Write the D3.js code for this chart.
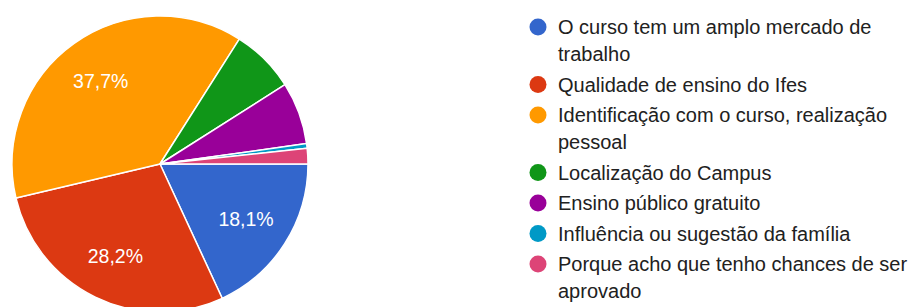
<!DOCTYPE html>
<html><head><meta charset="utf-8">
<script src="https://cdn.jsdelivr.net/npm/d3@7"></script>
<style>body{margin:0;background:#fff}svg{display:block}</style>
</head><body>
<svg id="c" width="910" height="307"></svg>
<script>
const categories = [
  "O curso tem um amplo mercado de trabalho",
  "Qualidade de ensino do Ifes",
  "Identificação com o curso, realização pessoal",
  "Localização do Campus",
  "Ensino público gratuito",
  "Influência ou sugestão da família",
  "Porque acho que tenho chances de ser aprovado"
];
const values = [18.1, 28.2, 37.7, 7.0, 6.8, 0.5, 1.7];
const shownLabels = ["18,1%", "28,2%", "37,7%", "", "", "", ""];
const colors = ["#3366cc", "#dc3912", "#ff9900", "#109618", "#990099", "#0099c6", "#dd4477"];

const svg = d3.select("#c");
const cx = 160, cy = 164, r = 148;
const data = categories.map((c, i) => ({c, v: values[i], lab: shownLabels[i], col: colors[i]}));
const pie = d3.pie().value(d => d.v).sort(null).startAngle(Math.PI / 2).endAngle(Math.PI / 2 + 2 * Math.PI);
const arc = d3.arc().innerRadius(0).outerRadius(r);
const labelArc = d3.arc().innerRadius(r * 0.69).outerRadius(r * 0.69);
const g = svg.append("g").attr("transform", `translate(${cx},${cy})`);
const arcs = pie(data);
g.selectAll("path").data(arcs).join("path")
  .attr("d", arc).attr("fill", d => d.data.col)
  .attr("stroke", "#fff").attr("stroke-width", 1.5).attr("stroke-linejoin", "round");
g.selectAll("text").data(arcs.filter(d => d.data.lab)).join("text")
  .attr("transform", d => `translate(${labelArc.centroid(d)})`)
  .attr("text-anchor", "middle").attr("dy", "0.36em")
  .attr("fill", "#fff").style("font-family", "Arial, 'Liberation Sans', sans-serif").style("font-size", "19.5px")
  .text(d => d.data.lab);

// legend
const lx = 538, tx = 558, maxW = 352, lineH = 27, pad = 3.5;
let y = 27;
const lg = svg.append("g");
data.forEach(d => {
  lg.append("circle").attr("cx", lx).attr("cy", y).attr("r", 8.5).attr("fill", d.col);
  const t = lg.append("text").attr("x", tx).attr("y", y).attr("fill", "#212121")
    .style("font-family", "Arial, 'Liberation Sans', sans-serif").style("font-size", "20px");
  const words = d.c.split(" ");
  let line = [], lines = [];
  const probe = t.append("tspan");
  words.forEach(w => {
    const test = line.concat(w).join(" ");
    probe.text(test);
    if (probe.node().getComputedTextLength() > maxW && line.length) { lines.push(line.join(" ")); line = [w]; }
    else line.push(w);
  });
  lines.push(line.join(" "));
  probe.remove();
  lines.forEach((ln, k) => {
    t.append("tspan").attr("x", tx).attr("y", y + k * lineH).attr("dy", "0.36em").text(ln);
  });
  y += lines.length * lineH + pad;
});
</script>
</body></html>
